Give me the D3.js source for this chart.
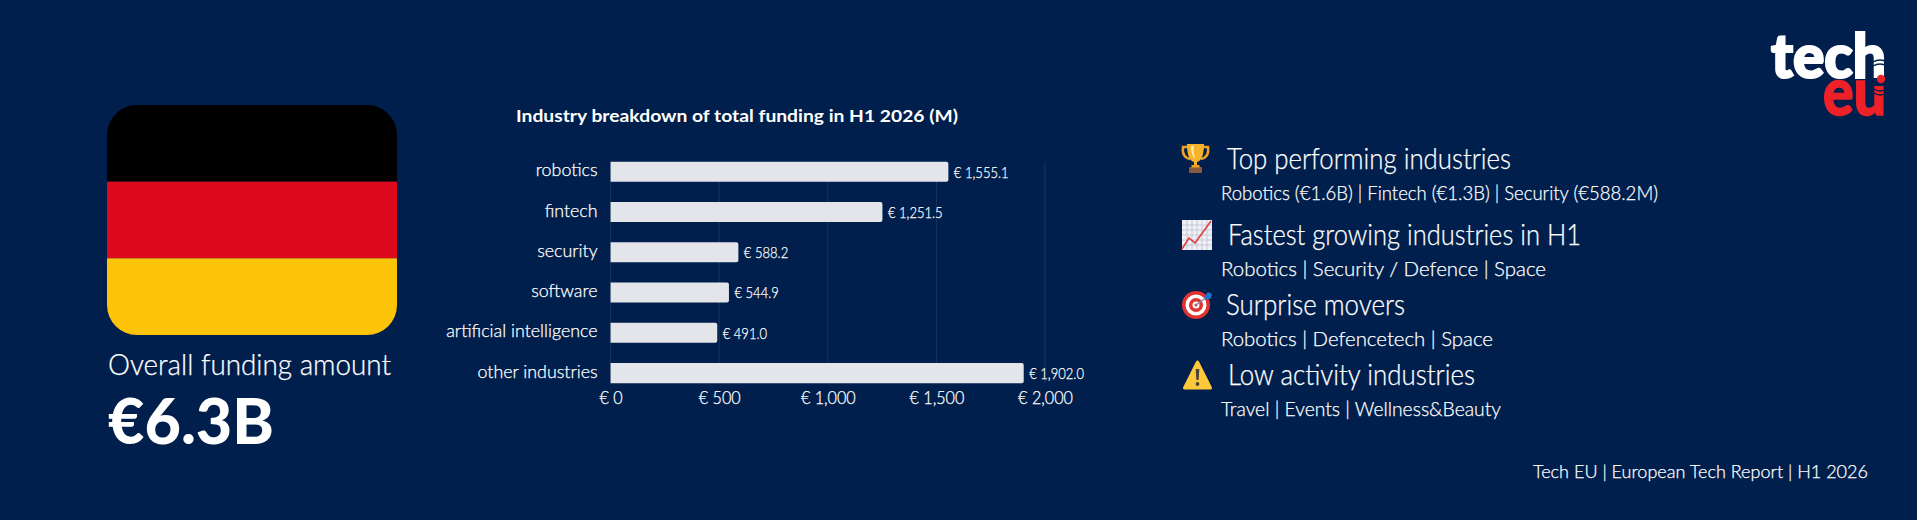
<!DOCTYPE html>
<html>
<head>
<meta charset="utf-8">
<script src="https://cdn.jsdelivr.net/npm/d3@7"></script>
<style>
  html, body { margin: 0; padding: 0; background: #001f4c; overflow: hidden; }
  svg { display: block; }
  text { font-family: Lato, sans-serif; fill: #fff; }
</style>
</head>
<body>
<svg id="canvas" width="1917" height="520"></svg>
<script>
// chart values
const industries = ["robotics", "fintech", "security", "software", "artificial intelligence", "other industries"];
const funding = [1555.1, 1251.5, 588.2, 544.9, 491.0, 1902.0];
const axisTicks = [0, 500, 1000, 1500, 2000];

const flagColors = ["#000000", "#dd0a1e", "#fdc409"];

const headings = ["Top performing industries", "Fastest growing industries in H1", "Surprise movers", "Low activity industries"];
const details = [
  "Robotics (€1.6B) | Fintech (€1.3B) | Security (€588.2M)",
  "Robotics | Security / Defence | Space",
  "Robotics | Defencetech | Space",
  "Travel | Events | Wellness&Beauty"
];

let svg = d3.select("#canvas");

// flag, clipped to a rounded card
svg.append("clipPath").attr("id", "flagClip")
  .append("rect").attr("x", 107).attr("y", 105).attr("width", 290).attr("height", 230).attr("rx", 30);
let flagY = d3.scaleBand().domain(d3.range(flagColors.length)).range([105, 335]);
svg.append("g").attr("clip-path", "url(#flagClip)")
  .selectAll("rect").data(flagColors).enter().append("rect")
  .attr("x", 107).attr("width", 290)
  .attr("y", (d, i) => flagY(i)).attr("height", flagY.bandwidth())
  .attr("fill", d => d);

// fits a label to the width measured on the reference
function label(x, y, str, size, width, weight) {
  let t = svg.append("text").attr("x", x).attr("y", y).text(str)
    .attr("font-size", size).attr("font-weight", weight || 400);
  if (width) t.attr("textLength", width).attr("lengthAdjust", "spacingAndGlyphs");
  return t;
}

// Lato Light is a bit too thin on the dark background
function thicken(t) { return t.attr("stroke", "#fff").attr("stroke-width", 0.25); }

// the reference font runs narrower than Lato
function squeeze(sel, factor) {
  sel.each(function () {
    d3.select(this).attr("textLength", this.getComputedTextLength() * factor).attr("lengthAdjust", "spacingAndGlyphs");
  });
}

thicken(label(108, 375, "Overall funding amount", 29, 283, 300));
label(108, 444, "€6.3B", 62, 166, 900);

// bar chart
const x = d3.scaleLinear().domain([0, 2000]).range([610.6, 1045]);
const y = d3.scaleBand().domain(industries).range([151.6, 393.2]).paddingInner(0.5).paddingOuter(0.25);

label(516, 122, "Industry breakdown of total funding in H1 2026 (M)", 17.5, 442, 700);

const euro = d3.format(",");
const xAxis = d3.axisBottom(x).tickValues(axisTicks).tickFormat(d => "€ " + euro(d)).tickSize(0).tickPadding(0);
let xg = svg.append("g").attr("transform", "translate(0,383)").call(xAxis);
xg.select(".domain").remove();
xg.selectAll("text").attr("dy", 0).attr("y", 21).attr("font-size", 17).attr("font-weight", 300).style("font-family", "Lato");
thicken(xg.selectAll("text"));
squeeze(xg.selectAll("text"), 0.95);

svg.append("g").selectAll("line").data(axisTicks).enter().append("line")
  .attr("x1", d => x(d)).attr("x2", d => x(d))
  .attr("y1", 162).attr("y2", 383)
  .attr("stroke", "#ffffff").attr("stroke-opacity", 0.1);

const yAxis = d3.axisLeft(y).tickSize(0).tickPadding(13);
let yg = svg.append("g").attr("transform", "translate(610.6,0)").call(yAxis);
yg.select(".domain").remove();
yg.selectAll("text").attr("dy", "0.27em").attr("font-size", 17).attr("font-weight", 300).style("font-family", "Lato");
thicken(yg.selectAll("text"));
squeeze(yg.selectAll("text"), 1.05);

svg.append("g").selectAll("path").data(funding).enter().append("path")
  .attr("fill", "#e4e5ea")
  .attr("d", (d, i) => {
    let top = y(industries[i]), h = y.bandwidth(), r = 2;
    return `M${x(0)},${top}H${x(d) - r}Q${x(d)},${top} ${x(d)},${top + r}V${top + h - r}Q${x(d)},${top + h} ${x(d) - r},${top + h}H${x(0)}Z`;
  });

let valueLabels = svg.append("g").selectAll("text").data(funding).enter().append("text")
  .attr("x", d => x(d) + 5.5)
  .attr("y", (d, i) => y(industries[i]) + y.bandwidth() / 2)
  .attr("dy", "0.38em")
  .attr("font-size", 15.5).attr("font-weight", 300)
  .text(d => "€ " + d3.format(",.1f")(d));
thicken(valueLabels);
squeeze(valueLabels, 0.84);

// right hand list
const headX = [1227, 1228, 1226, 1228];
const headY = [169, 245, 315, 385];
const headW = [284, 353, 179, 247];
const subY = [200, 276, 346, 416];
const subW = [437, 325, 272, 280];
headings.forEach((h, i) => thicken(label(headX[i], headY[i], h, 29, headW[i], 300)));
details.forEach((d, i) => thicken(label(1221, subY[i], d, 20, subW[i], 300)));

thicken(label(1533, 478, "Tech EU | European Tech Report | H1 2026", 18, 335, 300));

// logo
label(1771, 78, "tech", 60, 115, 900).attr("stroke", "#fff").attr("stroke-width", 2.2);
label(1823, 115, "eu", 66, 63, 900).style("fill", "#ee2128").attr("stroke", "#ee2128").attr("stroke-width", 1.6);
// signal arcs cut through the h and the u, with the dot on top
let logoMarks = svg.append("g").attr("fill", "none").attr("stroke", "#001f4c").attr("stroke-width", 1.4);
logoMarks.append("path").attr("d", "M1873,62Q1880,58 1887,62M1873,66Q1880,62 1887,66");
logoMarks.append("path").attr("d", "M1874,93Q1880,97 1887,93M1874,89Q1880,93 1887,89");
svg.append("rect").attr("x", 1873).attr("y", 78).attr("width", 15).attr("height", 8).attr("fill", "#001f4c");
svg.append("circle").attr("cx", 1881).attr("cy", 79).attr("r", 4.2).attr("fill", "#ee2128");

// icons
function icon(px, py) { return svg.append("g").attr("transform", `translate(${px},${py})`); }

let trophy = icon(1181, 144);
trophy.append("path").attr("fill", "none").attr("stroke", "#f0a322").attr("stroke-width", 2.5)
  .attr("d", "M7,3H2C1,10 4,14 9,15M22,3H27C28,10 25,14 20,15");
trophy.append("path").attr("fill", "#f7b32b").attr("d", "M6,0H23C23,12 20,17 16,18V21H13V18C9,17 6,12 6,0Z");
trophy.append("path").attr("fill", "#fde9b8").attr("d", "M10,2H13C12,7 13,11 14,15C11,12 10,7 10,2Z");
trophy.append("rect").attr("x", 8).attr("y", 23).attr("width", 13).attr("height", 6).attr("rx", 1).attr("fill", "#8a5a3c");
trophy.append("rect").attr("x", 10.5).attr("y", 21).attr("width", 8).attr("height", 2.5).attr("fill", "#f0a322");

let chart = icon(1182, 220);
chart.append("rect").attr("width", 30).attr("height", 30).attr("fill", "#f0f1f5");
d3.range(5, 30, 5).forEach(g => {
  chart.append("line").attr("x1", g).attr("x2", g).attr("y2", 30).attr("stroke", "#c4c9d8");
  chart.append("line").attr("y1", g).attr("y2", g).attr("x2", 30).attr("stroke", "#c4c9d8");
});
chart.append("path").attr("fill", "none").attr("stroke", "#e2403f").attr("stroke-width", 1.6)
  .attr("d", "M0,29L7,18L13,23L29,1");

let target = icon(1182, 291);
[[14, "#e1332f"], [10.5, "#ffffff"], [7, "#e1332f"], [3.5, "#ffffff"], [1.5, "#e1332f"]].forEach(c => {
  target.append("circle").attr("cx", 14).attr("cy", 14).attr("r", c[0]).attr("fill", c[1]);
});
target.append("path").attr("stroke", "#7f8fa8").attr("stroke-width", 1.5).attr("d", "M14,14L25,6");
target.append("path").attr("fill", "#1b75d0").attr("d", "M22,6L26,1L30,3L29,7L25,9Z");

let warn = icon(1183, 360);
warn.append("path").attr("fill", "#fdc93a").attr("stroke", "#fdc93a").attr("stroke-width", 3).attr("stroke-linejoin", "round")
  .attr("d", "M14.5,2L1.5,28H27.5Z");
warn.append("path").attr("fill", "#4a4238").attr("d", "M12.7,9H16.3L15.6,20H13.4Z");
warn.append("circle").attr("cx", 14.5).attr("cy", 24).attr("r", 1.9).attr("fill", "#4a4238");
</script>
</body>
</html>
